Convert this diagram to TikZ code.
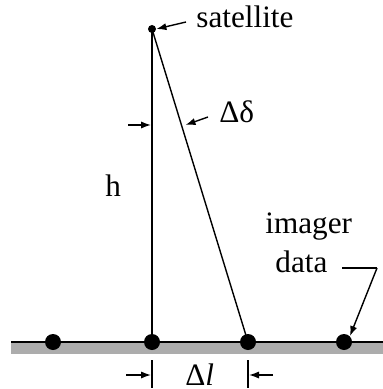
\documentclass[tikz,border=0pt]{standalone}
\usepackage{fontspec}
\setmainfont{Liberation Serif}
\usetikzlibrary{arrows.meta}
\begin{document}
\begin{tikzpicture}[x=0.5pt,y=-0.5pt,
  line/.style={line width=0.7pt},
  ptr/.style={line width=0.7pt,-{Latex[length=5pt,width=3.6pt]}},
  lbl/.style={font=\fontsize{15.6}{18}\selectfont,inner sep=0pt},
  dot/.style={circle,fill=black,inner sep=0pt,minimum size=8pt},
  sdot/.style={circle,fill=black,inner sep=0pt,minimum size=4pt}]
\useasboundingbox (0,0) rectangle (383,389);
% ground
\fill[gray!65] (11,342) rectangle (383,354);
\draw[line width=0.9pt] (11,342) -- (383,342);
% satellite
\node[sdot] (sat) at (152,29) {};
\coordinate (g1) at (152,342);
\coordinate (g2) at (248,342);
\draw[line] (sat.center) -- (g1);
\draw[line] (sat.center) -- (g2);
% dots
\node[dot] (d0) at (53,342) {};
\node[dot] (d1) at (152,342) {};
\node[dot] (d2) at (248,342) {};
\node[dot] (d3) at (344,342) {};
% satellite label
\node[lbl,anchor=base west] (satl) at (196,28) {satellite};
\coordinate (sa) at (186,22);
\draw[ptr] (sa) -- (sat.east);
% delta delta
\node[lbl,anchor=base west] (dd) at (219,123) {Δδ};
\coordinate (ddA) at (128,125);
\coordinate (ddAh) at (151,125);
\coordinate (ddB) at (208,117);
\coordinate (ddBh) at (185.5,125);
\draw[ptr] (ddA) -- (ddAh);
\draw[ptr] (ddB) -- (ddBh);
% h
\node[lbl,anchor=base west] (h) at (105,197) {h};
% imager data
\node[lbl,anchor=base west] (im) at (265,233) {imager};
\node[lbl,anchor=base west] (da) at (275,272) {data};
\coordinate (l1) at (342,268);
\coordinate (l2) at (377,268);
\draw[line] (l1) -- (l2);
\draw[ptr] (l2) -- (d3.north east);
% delta l
\coordinate (t1a) at (152,360);
\coordinate (t1b) at (152,388);
\coordinate (t2a) at (248,360);
\coordinate (t2b) at (248,388);
\draw[line] (t1a) -- (t1b);
\draw[line] (t2a) -- (t2b);
\coordinate (aL) at (126,375);
\coordinate (aLh) at (151,375);
\coordinate (aR) at (273,375);
\coordinate (aRh) at (249,375);
\draw[ptr] (aL) -- (aLh);
\draw[ptr] (aR) -- (aRh);
\node[lbl,anchor=base west] (dl) at (185,385) {Δ\textit{l}};
\end{tikzpicture}
\end{document}
